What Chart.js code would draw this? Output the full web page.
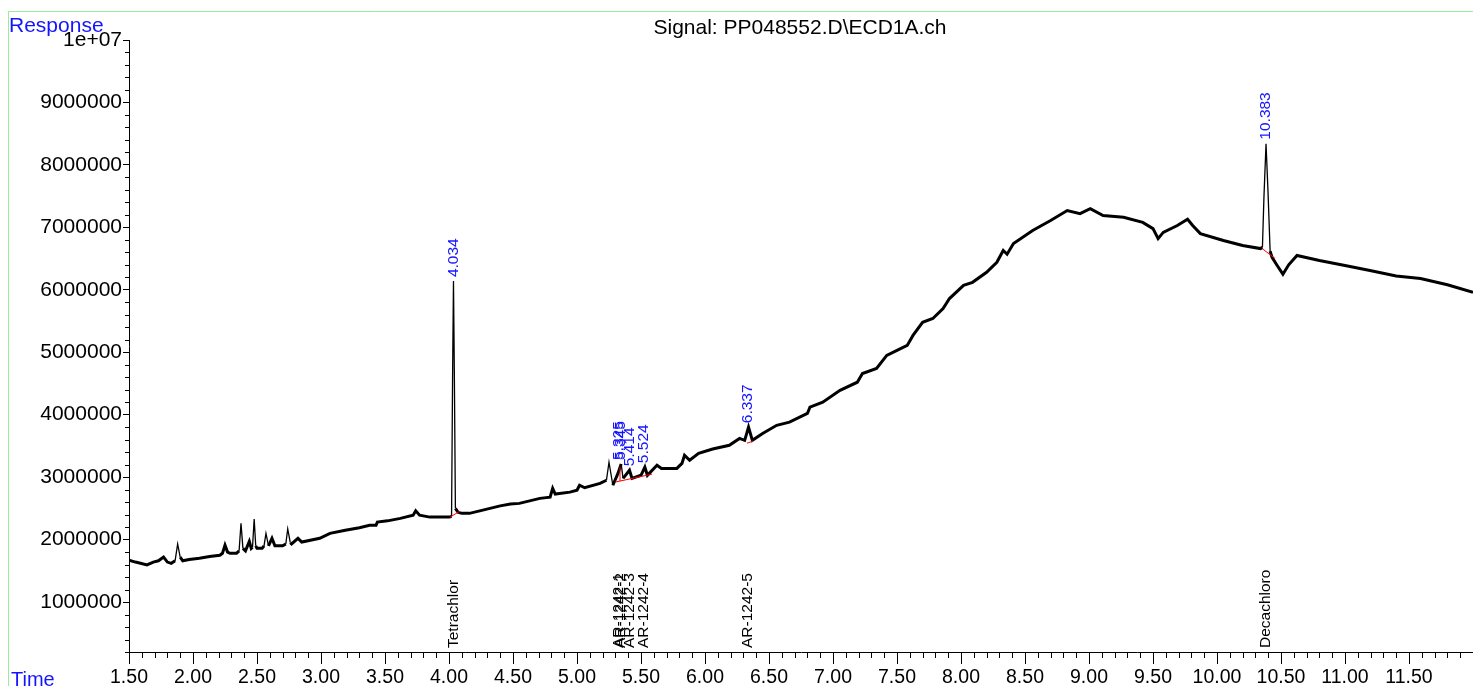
<!DOCTYPE html>
<html>
<head>
<meta charset="utf-8">
<script src="https://cdn.jsdelivr.net/npm/chart.js@4"></script>
<style>
  html, body { margin: 0; padding: 0; background: #fff; }
  #wrap { width: 1473px; height: 686px; position: relative; }
</style>
</head>
<body>
<div id="wrap"><canvas id="chromChart" width="1473" height="686"></canvas></div>
<script>
// signal (time in min, response in counts)
const times = [
  1.50, 1.55, 1.59, 1.64, 1.69, 1.73, 1.77, 1.80, 1.83, 1.86, 1.88, 1.90, 1.92, 1.97,
  2.05, 2.13, 2.21, 2.23, 2.25, 2.27, 2.29, 2.34, 2.36, 2.375, 2.39, 2.41, 2.44, 2.455,
  2.465, 2.478, 2.49, 2.50, 2.54, 2.555, 2.57, 2.59, 2.617, 2.64, 2.70, 2.725, 2.74, 2.76,
  2.77, 2.82, 2.85, 2.99, 3.07, 3.19, 3.30, 3.38, 3.43, 3.44, 3.52, 3.62, 3.72, 3.74,
  3.77, 3.85, 4.00, 4.02, 4.028, 4.035, 4.042, 4.05, 4.07, 4.10, 4.16, 4.24, 4.32, 4.40,
  4.48, 4.55, 4.63, 4.71, 4.79, 4.81, 4.83, 4.945, 5.00, 5.02, 5.06, 5.18, 5.23, 5.25,
  5.28, 5.32, 5.345, 5.36, 5.41, 5.43, 5.50, 5.53, 5.55, 5.625, 5.66, 5.78, 5.82, 5.84,
  5.88, 5.95, 6.06, 6.19, 6.27, 6.31, 6.34, 6.37, 6.45, 6.56, 6.66, 6.80, 6.82, 6.92,
  7.055, 7.19, 7.23, 7.34, 7.42, 7.50, 7.58, 7.625, 7.70, 7.78, 7.86, 7.91, 8.02, 8.09,
  8.20, 8.28, 8.33, 8.36, 8.41, 8.56, 8.70, 8.83, 8.93, 9.01, 9.11, 9.27, 9.42, 9.50,
  9.54, 9.58, 9.69, 9.77, 9.81, 9.87, 10.05, 10.20, 10.34, 10.355, 10.367, 10.383, 10.398, 10.415,
  10.43, 10.47, 10.515, 10.56, 10.625, 10.80, 11.00, 11.195, 11.40, 11.59, 11.80, 12.00
];
const response = [
  1672000, 1640000, 1620000, 1595000, 1640000, 1660000, 1720000, 1640000, 1620000, 1660000, 1930000, 1720000, 1660000, 1680000,
  1700000, 1730000, 1750000, 1780000, 1910000, 1800000, 1780000, 1780000, 1820000, 2260000, 1860000, 1820000, 1970000, 1860000,
  1880000, 2330000, 1900000, 1860000, 1860000, 1900000, 2100000, 1900000, 2020000, 1900000, 1900000, 1930000, 2170000, 1950000,
  1930000, 2020000, 1960000, 2020000, 2100000, 2150000, 2190000, 2230000, 2230000, 2280000, 2300000, 2340000, 2390000, 2460000,
  2390000, 2360000, 2360000, 2370000, 4600000, 6140000, 4600000, 2500000, 2440000, 2420000, 2420000, 2460000, 2500000, 2540000,
  2570000, 2580000, 2620000, 2660000, 2680000, 2820000, 2730000, 2760000, 2790000, 2870000, 2830000, 2900000, 2950000, 3240000,
  2870000, 3060000, 3210000, 2980000, 3110000, 2980000, 3030000, 3160000, 3030000, 3190000, 3140000, 3140000, 3220000, 3350000,
  3270000, 3380000, 3450000, 3510000, 3620000, 3590000, 3800000, 3590000, 3700000, 3830000, 3880000, 4020000, 4120000, 4200000,
  4390000, 4520000, 4660000, 4740000, 4950000, 5030000, 5110000, 5270000, 5480000, 5540000, 5700000, 5860000, 6070000, 6120000,
  6280000, 6440000, 6630000, 6570000, 6740000, 6950000, 7110000, 7270000, 7220000, 7300000, 7190000, 7160000, 7080000, 6980000,
  6820000, 6920000, 7030000, 7130000, 7030000, 6900000, 6790000, 6710000, 6660000, 6680000, 7500000, 8340000, 7600000, 6620000,
  6520000, 6390000, 6250000, 6400000, 6550000, 6470000, 6390000, 6310000, 6220000, 6180000, 6080000, 5960000
];

// integration baselines (red), null = break between segments
const baselineTimes = [4.008, 4.086, null, 5.297, 5.586, null, 5.336, 5.336, null, 6.328, 6.375, null, 10.35, 10.453];
const baselineValues = [2360000, 2456000, null, 2920000, 3048000, null, 2936000, 3160000, null, 3544000, 3576000, null, 6664000, 6504000];

// labelled peaks
const peakTimes = [4.034, 5.325, 5.345, 5.414, 5.524, 6.337, 10.383];
const peakLabels = ['4.034', '5.325', '5.345', '5.414', '5.524', '6.337', '10.383'];
const compoundNames = ['Tetrachlor', 'AR-1242-1', 'AR-1242-2', 'AR-1242-3', 'AR-1242-4', 'AR-1242-5', 'Decachloro'];

// labelled response ticks
const yTickValues = [1000000, 2000000, 3000000, 4000000, 5000000, 6000000, 7000000, 8000000, 9000000, 10000000];

const FONT = "'Liberation Sans', Arial, sans-serif";
const BLUE = '#1414ff';

const signalPoints = times.map((t, i) => ({ x: t, y: response[i] }));
const baselinePoints = baselineTimes.map((t, i) => t === null
  ? { x: baselineTimes[i - 1], y: null }
  : { x: t, y: baselineValues[i] });

const decorations = {
  id: 'decorations',
  afterDraw(chart) {
    const ctx = chart.ctx;
    const xs = chart.scales.x, ys = chart.scales.y;
    const area = chart.chartArea;
    ctx.save();

    // green frame
    ctx.strokeStyle = '#9aeb9a';
    ctx.lineWidth = 1;
    ctx.beginPath();
    ctx.moveTo(8.5, 686); ctx.lineTo(8.5, 11.5); ctx.lineTo(1473, 11.5);
    ctx.stroke();

    // minor ticks
    ctx.strokeStyle = '#000';
    ctx.beginPath();
    for (let i = 15; i <= 120; i++) {
      if (i % 5 === 0) continue;
      const px = Math.round(xs.getPixelForValue(i / 10)) + 0.5;
      ctx.moveTo(px, area.bottom); ctx.lineTo(px, area.bottom + 6);
    }
    for (let i = 1; i <= 50; i++) {
      if (i % 5 === 0) continue;
      const py = Math.round(ys.getPixelForValue(i * 200000)) + 0.5;
      ctx.moveTo(area.left - 4, py); ctx.lineTo(area.left, py);
    }
    ctx.stroke();

    // title and axis captions
    ctx.fillStyle = '#000';
    ctx.font = '21px ' + FONT;
    ctx.textAlign = 'center';
    ctx.textBaseline = 'alphabetic';
    ctx.fillText('Signal: PP048552.D\\ECD1A.ch', 800, 34);
    ctx.fillStyle = BLUE;
    ctx.textAlign = 'left';
    ctx.fillText('Response', 9, 32);
    ctx.font = '20px ' + FONT;
    ctx.fillText('Time', 11, 686);

    // peak retention times and compound names
    ctx.font = '15.5px ' + FONT;
    ctx.textBaseline = 'middle';
    peakTimes.forEach((t, k) => {
      let top = -Infinity;
      times.forEach((tt, i) => { if (Math.abs(tt - t) <= 0.03) top = Math.max(top, response[i]); });
      const px = xs.getPixelForValue(t);
      const py = ys.getPixelForValue(top) - 4;
      ctx.save();
      ctx.translate(px, py);
      ctx.rotate(-Math.PI / 2);
      ctx.fillStyle = BLUE;
      ctx.fillText(peakLabels[k], 0, 0);
      ctx.restore();

      ctx.save();
      ctx.translate(px, area.bottom - 4);
      ctx.rotate(-Math.PI / 2);
      ctx.fillStyle = '#000';
      ctx.fillText(compoundNames[k], 0, 0);
      ctx.restore();
    });
    ctx.restore();
  }
};

new Chart(document.getElementById('chromChart').getContext('2d'), {
  type: 'line',
  data: {
    datasets: [{
      data: baselinePoints,
      borderColor: '#ff0000',
      borderWidth: 1,
      pointRadius: 0,
      spanGaps: false
    }, {
      data: signalPoints,
      borderColor: '#000',
      borderWidth: 3,
      pointRadius: 0,
      tension: 0,
      segment: {
        borderWidth: c => {
          const dx = Math.abs(c.p1.x - c.p0.x), dy = Math.abs(c.p1.y - c.p0.y);
          return dy > 4 * dx ? 1.3 : 3;
        }
      }
    }]
  },
  options: {
    responsive: false,
    animation: false,
    devicePixelRatio: 1,
    layout: { padding: { top: 40, left: 0, right: 0, bottom: 0 } },
    plugins: { legend: { display: false }, tooltip: { enabled: false } },
    scales: {
      x: {
        type: 'linear',
        min: 1.5,
        max: 12,
        afterFit: s => { s.height = 34; s.paddingRight = 0; s.paddingLeft = 0; },
        border: { display: true, color: '#000', width: 1 },
        grid: { drawOnChartArea: false, drawTicks: true, tickLength: 12, color: '#000' },
        ticks: {
          stepSize: 0.5,
          autoSkip: false,
          maxRotation: 0,
          padding: 2,
          color: '#000',
          font: { family: FONT, size: 19.5 },
          callback: v => v > 11.99 ? '' : v.toFixed(2)
        }
      },
      y: {
        min: 200000,
        max: 10000000,
        afterBuildTicks: s => { s.ticks = yTickValues.map(v => ({ value: v })); },
        afterFit: s => { s.width = 129; },
        border: { display: true, color: '#000', width: 1 },
        grid: { drawOnChartArea: false, drawTicks: true, tickLength: 6, color: '#000' },
        ticks: {
          autoSkip: false,
          padding: 1,
          color: '#000',
          font: { family: FONT, size: 21 },
          callback: v => v === 10000000 ? '1e+07' : String(v)
        }
      }
    }
  },
  plugins: [decorations]
});
</script>
</body>
</html>
